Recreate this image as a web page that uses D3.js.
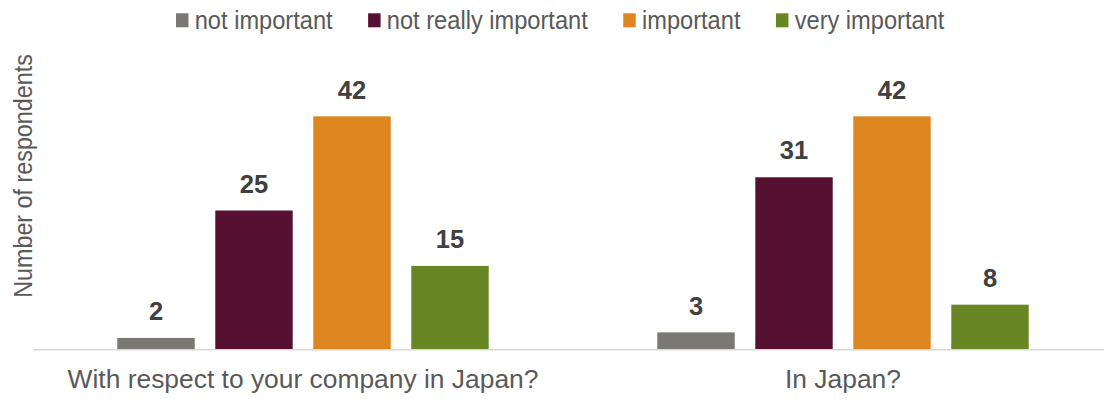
<!DOCTYPE html>
<html>
<head>
<meta charset="utf-8">
<script src="https://cdn.jsdelivr.net/npm/d3@7"></script>
<style>
  html, body { margin: 0; padding: 0; background: #ffffff; }
  svg { display: block; font-family: "Liberation Sans", Arial, sans-serif; }
</style>
</head>
<body>
<svg id="chart" width="1104" height="399"></svg>
<script>
// Survey answers grouped by question
const categories = ["With respect to your company in Japan?", "In Japan?"];
const seriesNames = ["not important", "not really important", "important", "very important"];
const seriesColors = ["#7a7872", "#561032", "#de8720", "#688624"];
const notImportant = [2, 3];
const notReallyImportant = [25, 31];
const important = [42, 42];
const veryImportant = [15, 8];
const yTitle = "Number of respondents";

const seriesValues = [notImportant, notReallyImportant, important, veryImportant];
const rows = categories.map((c, i) => ({
  category: c,
  values: seriesNames.map((s, j) => ({ key: s, value: seriesValues[j][i], color: seriesColors[j] }))
}));

const svg = d3.select("#chart");
const baseY = 349;

const x0 = d3.scaleBand().domain(categories).range([33, 1113]).paddingInner(0).paddingOuter(0);
const groupPad = 84.3;
const x1 = d3.scaleBand().domain(seriesNames)
  .range([groupPad, x0.bandwidth() - groupPad]).paddingInner(0.21).paddingOuter(0);
const y = d3.scaleLinear().domain([0, 45]).range([baseY, 99.7]);

// Bars
const groups = svg.append("g").selectAll("g").data(rows).join("g")
  .attr("transform", d => `translate(${x0(d.category)},0)`);

groups.selectAll("rect").data(d => d.values).join("rect")
  .attr("x", d => x1(d.key))
  .attr("width", x1.bandwidth())
  .attr("y", d => y(d.value))
  .attr("height", d => y(0) - y(d.value))
  .attr("fill", d => d.color);

// Value labels
groups.selectAll("text.val").data(d => d.values).join("text")
  .attr("class", "val")
  .attr("x", d => x1(d.key) + x1.bandwidth() / 2)
  .attr("y", d => y(d.value) - 17.8)
  .attr("text-anchor", "middle")
  .attr("font-size", "25.5px")
  .attr("font-weight", "bold")
  .attr("fill", "#404040")
  .text(d => d.value);

// Category axis
const xAxis = svg.append("g").attr("transform", `translate(0,${baseY})`)
  .call(d3.axisBottom(x0).tickSize(0).tickPadding(0));
xAxis.select(".domain").attr("stroke", "#d9d9d9").attr("stroke-width", 1.5)
  .attr("d", "M33,0.75H1104");
xAxis.selectAll(".tick text")
  .attr("y", 39)
  .attr("dy", null)
  .attr("font-size", "26.4px")
  .attr("font-family", "Liberation Sans, Arial, sans-serif")
  .attr("fill", "#595959");

// Y axis title
svg.append("text")
  .attr("transform", "translate(32,176) rotate(-90) scale(0.88,1)")
  .attr("text-anchor", "middle")
  .attr("font-size", "26.5px")
  .attr("fill", "#595959")
  .text(yTitle);

// Legend
const legend = svg.append("g");
const squeeze = 0.892;
let lx = 176;
seriesNames.forEach((name, i) => {
  const item = legend.append("g").attr("transform", `translate(${lx},0) scale(${squeeze},1)`);
  item.append("rect")
    .attr("x", 0).attr("y", 13.3).attr("width", 14).attr("height", 14)
    .attr("fill", seriesColors[i]);
  const t = item.append("text")
    .attr("x", 21).attr("y", 29.3)
    .attr("font-size", "26.5px")
    .attr("fill", "#595959")
    .text(name);
  const w = (21 + t.node().getComputedTextLength()) * squeeze;
  lx += w + 35.5;
});
</script>
</body>
</html>
